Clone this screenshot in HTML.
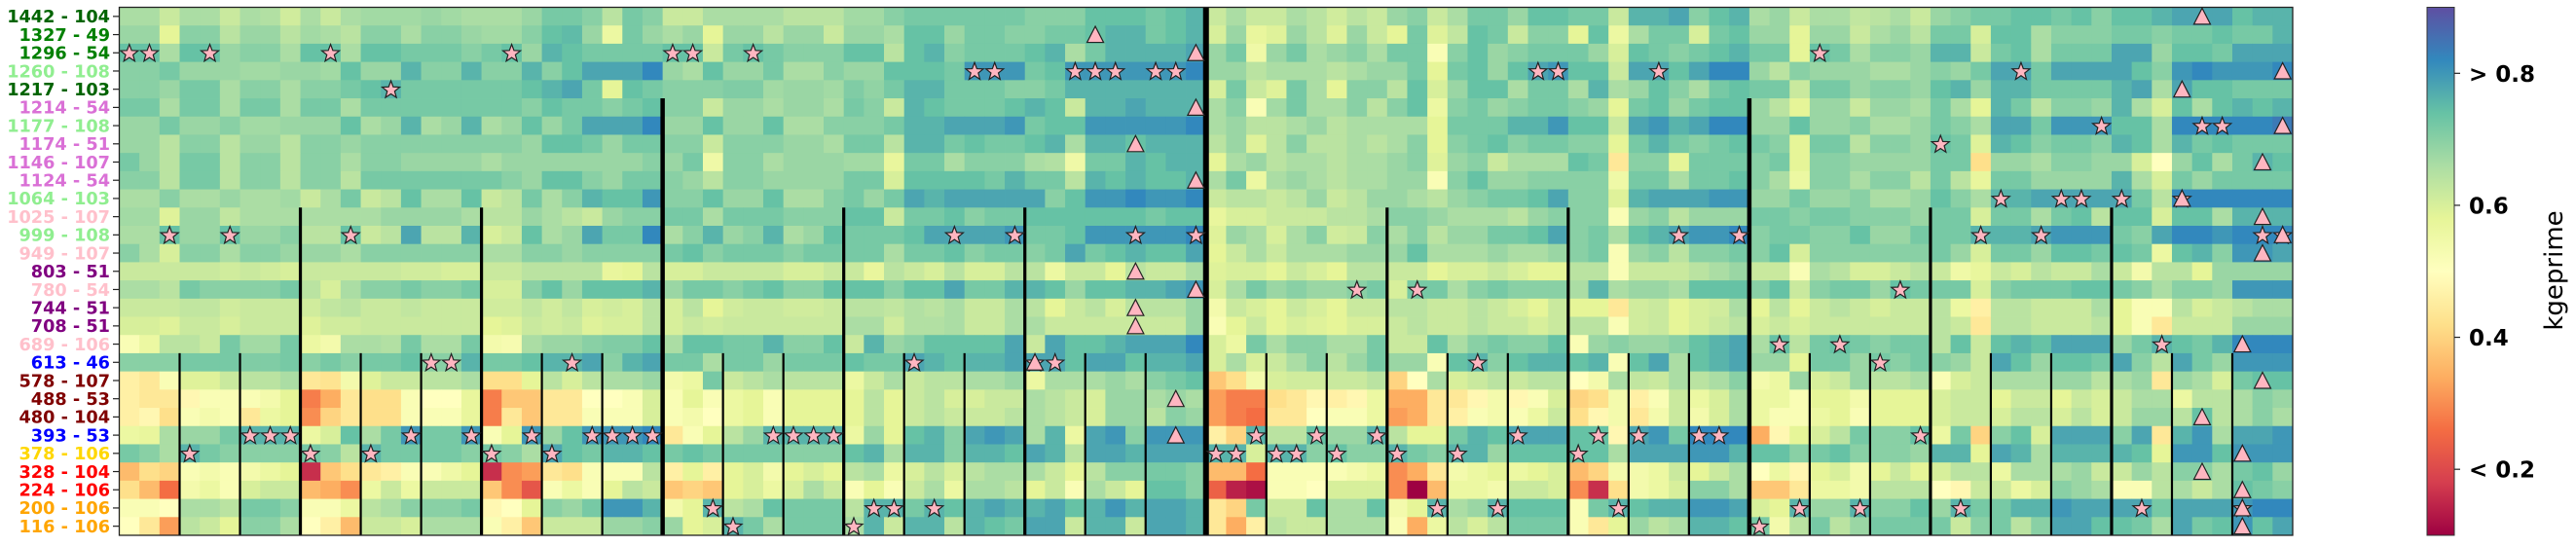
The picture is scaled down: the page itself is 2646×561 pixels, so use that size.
<!DOCTYPE html>
<html><head><meta charset="utf-8"><title>kgeprime heatmap</title>
<style>html,body{margin:0;padding:0;background:#fff;}svg{display:block;}</style></head>
<body>
<svg id="chart" xmlns="http://www.w3.org/2000/svg" width="2646" height="561" viewBox="0 0 2646 561">
<defs>
<linearGradient id="spectral" x1="0" y1="1" x2="0" y2="0">
<stop offset="0" stop-color="#9e0142"/><stop offset="0.1" stop-color="#d53e4f"/><stop offset="0.2" stop-color="#f46d43"/><stop offset="0.3" stop-color="#fdae61"/><stop offset="0.4" stop-color="#fee08b"/><stop offset="0.5" stop-color="#ffffbf"/><stop offset="0.6" stop-color="#e6f598"/><stop offset="0.7" stop-color="#abdda4"/><stop offset="0.8" stop-color="#66c2a5"/><stop offset="0.9" stop-color="#3288bd"/><stop offset="1" stop-color="#5e4fa2"/>
</linearGradient>
</defs>
<g id="cells"></g>
<g id="vlines"></g>
<g id="markers"></g>
<rect x="122.5" y="7.5" width="2232.5" height="542.5" fill="none" stroke="#222" stroke-width="1.3"/>
<g id="ylabels"></g>
<g>
<rect x="2493" y="7.5" width="28" height="542.5" fill="url(#spectral)" stroke="#333" stroke-width="1"/>
<g id="cbticks"></g>
<text x="2632" y="278" transform="rotate(-90 2632 278)" text-anchor="middle" font-family="DejaVu Sans, Liberation Sans, sans-serif" font-size="26">kgeprime</text>
</g>
</svg>
<script>
const rowLabels=["1442 - 104","1327 - 49","1296 - 54","1260 - 108","1217 - 103","1214 - 54","1177 - 108","1174 - 51","1146 - 107","1124 - 54","1064 - 103","1025 - 107","999 - 108","949 - 107","803 - 51","780 - 54","744 - 51","708 - 51","689 - 106","613 - 46","578 - 107","488 - 53","480 - 104","393 - 53","378 - 106","328 - 104","224 - 106","200 - 106","116 - 106"];
const labelColors=["#006400","#008000","#008000","#90ee90","#006400","#da70d6","#90ee90","#da70d6","#da70d6","#da70d6","#90ee90","#ffc0cb","#90ee90","#ffc0cb","#800080","#ffc0cb","#800080","#800080","#ffc0cb","#0000ff","#800000","#800000","#800000","#0000ff","#ffd700","#ff0000","#ff0000","#ffa500","#ffa500"];
const cbTickValues=[0.8,0.6,0.4,0.2];
const cbTickLabels=["> 0.8","0.6","0.4","< 0.2"];
const vmin=0.1, vmax=0.9;
// values x100, rows top->bottom, 108 columns
const values=[
[66,66,62,66,66,62,66,65,61,66,62,66,67,67,67,68,67,66,66,66,68,72,72,70,64,72,70, 62,62,66,66,66,66,64,64,64,67,67,70,72,72,72,72,72,72,70,70,70,74,74,74,72,74,76, 62,66,62,62,66,64,61,64,62,68,70,62,66,72,72,68,74,74,72,72,62,76,76,78,70,74,76, 66,68,62,66,66,63,64,66,62,68,70,72,72,74,74,72,74,70,74,74,76,78,78,78,74,76,76],
[68,68,58,70,70,64,68,68,64,67,66,64,70,70,66,70,70,68,67,67,70,74,75,68,56,72,68, 66,68,58,68,68,64,68,68,62,68,68,66,74,74,68,72,72,70,70,72,72,74,76,76,72,74,76, 60,68,57,59,68,64,59,68,62,58,72,59,63,74,72,62,70,70,58,74,56,66,72,72,60,72,74, 68,68,58,68,68,62,66,68,64,72,72,60,74,74,66,70,70,70,72,72,70,72,72,74,72,72,76],
[74,74,66,74,74,68,70,70,66,74,74,66,74,74,72,72,72,70,72,74,68,76,74,72,72,72,72, 74,74,62,72,74,72,70,70,70,74,74,64,74,76,70,72,72,72,74,76,66,72,76,76,76,76,78, 68,72,55,68,72,66,68,70,66,72,72,52,70,74,68,70,72,72,72,68,60,74,72,70,72,74,76, 72,72,58,74,72,66,70,70,68,76,76,62,72,74,66,72,72,72,78,78,68,74,74,72,78,78,78],
[70,70,72,68,68,68,67,67,68,68,67,74,68,68,76,70,70,76,70,70,76,70,74,78,78,78,82, 68,66,74,68,68,72,66,66,70,68,68,74,74,74,72,80,80,80,72,74,80,80,80,80,80,80,82, 68,68,64,66,66,66,64,66,68,68,72,58,72,74,68,74,78,80,74,74,62,78,78,74,78,82,82, 68,64,70,68,68,68,66,66,68,70,68,72,78,78,72,78,78,78,78,74,70,80,82,80,80,80,82],
[70,70,68,72,72,66,70,70,66,70,70,72,74,76,72,72,72,72,72,72,74,76,78,72,58,74,72, 70,70,70,71,71,67,68,68,67,71,69,72,76,76,72,72,72,70,70,72,76,76,76,76,76,76,76, 60,72,62,59,72,66,58,70,70,64,74,60,68,74,74,66,72,72,66,76,66,68,74,70,66,72,74, 72,72,62,72,72,68,70,70,68,74,76,68,76,76,72,72,72,72,76,78,66,78,74,74,72,72,72],
[72,72,66,72,72,66,72,72,66,72,72,66,72,72,72,72,72,72,72,72,70,74,72,72,70,72,74, 70,70,62,68,68,66,68,68,66,72,70,62,76,74,72,72,72,74,76,74,62,76,76,78,76,76,76, 66,70,52,67,72,66,66,70,64,70,74,56,70,72,68,70,72,72,70,68,58,72,74,68,72,74,74, 68,64,58,68,68,62,68,68,66,72,66,58,76,72,64,70,70,68,76,66,60,74,66,74,76,74,76],
[68,68,72,68,68,70,67,67,68,68,68,74,66,68,76,66,68,76,66,68,74,68,72,78,78,78,82, 68,68,74,68,68,74,66,66,70,70,70,72,76,76,78,78,78,80,72,74,74,80,80,80,80,80,82, 66,68,64,64,66,68,64,66,66,66,66,58,72,72,72,76,76,80,74,74,62,78,80,76,78,82,82, 68,68,74,68,68,70,66,66,68,72,70,66,78,78,72,80,80,80,74,74,66,82,82,82,82,82,84],
[68,68,64,70,70,64,68,68,64,70,70,68,70,70,70,70,70,70,70,70,68,74,74,72,68,72,72, 70,70,62,70,70,70,68,68,66,72,72,64,76,76,72,74,72,72,74,76,66,76,76,74,76,76,76, 64,68,59,64,70,64,64,66,64,66,70,58,70,72,74,70,72,72,70,70,58,72,76,72,70,72,74, 72,70,58,72,72,64,70,70,68,74,72,59,76,74,70,72,72,70,76,74,66,76,72,74,72,72,72],
[72,68,64,72,72,64,70,70,64,70,70,66,70,70,68,68,68,68,66,68,68,68,68,68,68,68,70, 68,72,55,70,70,66,68,68,68,67,67,57,72,72,66,70,70,70,66,65,55,72,72,76,74,76,76, 58,66,68,64,66,66,64,66,66,68,70,59,68,70,62,66,66,66,74,72,44,70,70,58,72,72,72, 70,72,58,70,70,68,68,68,68,72,72,42,68,68,66,70,70,68,68,60,50,68,74,66,72,76,74],
[70,70,64,72,72,64,70,70,64,70,70,64,72,72,72,72,72,72,72,70,68,74,74,70,68,72,72, 70,68,64,70,70,68,68,68,68,72,72,60,74,74,74,74,72,76,72,72,64,76,74,76,74,74,76, 66,72,56,66,68,66,64,66,66,68,68,52,70,74,68,68,70,70,70,70,55,72,72,66,72,72,74, 70,66,56,70,70,66,70,70,64,72,64,57,72,72,68,68,68,68,76,66,60,72,68,72,72,72,72],
[66,66,70,66,66,68,66,66,67,62,66,72,62,64,74,66,66,74,62,64,72,66,70,76,74,74,80, 70,70,74,68,68,74,66,66,70,72,68,72,78,76,78,78,78,78,78,70,74,80,80,82,80,80,82, 62,64,64,62,64,68,62,64,68,68,66,64,68,70,72,72,74,78,70,70,59,76,78,78,78,80,80, 68,68,72,68,68,70,66,66,68,74,70,66,76,76,78,78,78,78,78,72,64,82,82,82,82,82,82],
[67,67,59,68,68,63,66,66,66,66,66,66,66,68,68,68,68,66,64,64,68,66,64,62,68,70,70, 72,72,66,72,72,72,70,70,70,74,74,62,72,72,74,70,72,72,74,74,74,74,74,74,72,74,74, 57,60,60,62,62,62,64,64,66,70,70,68,66,66,66,64,68,70,70,70,52,68,70,64,68,68,68, 72,72,70,72,72,70,70,70,68,72,72,60,72,72,66,72,74,64,74,74,60,74,74,66,76,76,76],
[66,66,74,68,68,74,68,68,70,64,64,74,62,64,78,64,64,76,60,62,74,66,68,78,72,72,82, 66,70,76,68,70,76,66,68,74,72,72,72,74,78,78,78,78,80,72,72,74,80,80,80,80,80,82, 59,68,66,60,66,70,61,62,70,66,70,64,68,68,72,72,74,78,70,72,66,74,76,78,80,80,82, 70,72,72,70,70,74,68,68,72,72,72,76,76,76,78,80,80,80,72,70,78,82,82,80,82,82,82],
[70,66,60,70,70,66,70,70,68,68,68,66,70,70,70,70,70,70,66,66,70,70,68,70,70,70,70, 72,74,70,72,72,72,70,72,72,72,72,66,72,72,74,70,72,72,70,72,78,72,74,76,74,74,78, 58,62,66,62,66,66,66,68,68,68,74,66,66,66,68,66,66,68,70,72,52,68,70,64,70,70,72, 70,74,60,70,70,70,70,70,70,72,68,60,72,72,68,74,74,72,74,72,56,74,76,70,80,80,78],
[62,62,62,62,62,61,62,61,60,62,62,62,62,62,61,61,60,60,62,62,64,64,64,64,57,58,64, 60,60,62,62,62,62,60,60,62,62,57,64,62,60,64,60,60,64,64,56,62,62,58,64,62,62,66, 59,60,60,58,62,60,58,64,64,62,62,58,60,60,62,60,58,58,64,64,52,62,62,62,64,66,68, 62,62,52,66,64,60,60,62,64,62,55,57,62,60,64,62,62,66,62,54,64,64,58,68,68,68,68],
[66,66,64,72,70,70,70,70,72,64,60,66,70,70,72,70,70,72,60,60,70,74,68,74,74,74,76, 68,72,72,70,72,74,70,70,74,74,74,70,74,74,78,72,72,76,76,74,68,74,74,76,76,78,80, 60,66,72,68,70,68,68,70,72,60,72,72,66,70,72,70,70,70,66,76,66,68,68,66,74,74,74, 70,74,62,70,72,72,68,74,72,72,72,60,70,72,72,72,74,74,72,70,66,70,70,68,80,80,80],
[62,62,62,63,63,61,62,62,62,61,63,64,62,62,63,62,62,62,61,61,63,61,63,60,61,60,64, 60,64,58,61,62,62,61,61,62,64,64,63,65,64,66,62,62,66,64,58,62,64,60,64,64,64,68, 54,62,60,58,62,60,58,62,62,64,64,62,62,64,62,60,58,62,58,58,44,61,62,58,60,61,66, 58,64,58,62,64,62,60,62,62,64,56,46,64,64,62,62,62,66,58,52,52,64,60,62,64,66,66],
[60,60,59,62,62,60,62,62,62,59,61,61,62,62,62,62,62,62,58,59,62,61,62,59,60,60,64, 60,62,61,62,62,62,62,62,62,66,66,61,65,65,66,62,62,66,66,62,62,62,62,62,62,62,68, 52,58,62,58,60,59,58,60,60,62,64,62,62,64,62,62,60,62,64,64,52,61,62,58,60,62,64, 60,62,60,62,62,62,62,62,62,64,62,44,64,64,62,62,62,64,58,52,44,62,62,62,68,68,68],
[52,56,64,64,62,72,67,67,72,56,54,66,66,65,72,66,66,72,54,53,66,68,68,70,71,71,74, 66,74,74,72,72,76,70,70,74,62,76,68,70,74,74,74,74,78,62,78,74,74,76,78,78,78,82, 60,56,72,66,70,70,66,66,72,62,62,74,66,70,72,70,70,74,52,68,70,68,68,70,74,76,78, 66,74,64,72,74,72,70,72,72,64,74,62,74,76,74,78,78,78,68,72,76,74,72,76,82,82,82],
[70,70,70,72,72,72,71,71,72,70,72,70,72,72,74,70,70,76,72,72,74,76,76,78,70,76,78, 72,72,66,72,72,68,72,72,72,74,72,72,78,76,74,76,76,78,78,78,74,78,78,74,76,76,78, 60,66,60,62,66,70,64,68,72,68,68,52,74,76,70,74,76,76,74,76,52,74,78,66,74,76,78, 68,68,58,72,72,68,72,70,72,70,68,62,78,74,68,74,74,72,78,70,64,78,72,68,80,80,80],
[46,44,52,59,59,62,64,64,66,44,43,54,59,62,62,64,64,66,42,42,58,64,60,64,66,66,68, 54,56,72,62,64,66,64,64,64,56,62,66,62,64,64,66,66,68,56,66,66,66,68,66,70,72,74, 38,42,54,60,61,61,62,62,64,40,50,66,60,62,64,62,64,64,50,54,66,63,62,66,64,66,70, 54,56,68,60,62,68,64,64,66,52,60,62,66,66,66,68,68,64,66,68,44,68,66,60,72,74,74],
[46,44,44,48,52,52,52,54,58,28,34,44,42,42,52,50,50,57,28,38,38,44,44,50,50,52,60, 52,58,52,56,58,52,58,58,58,58,64,58,62,64,60,60,62,62,66,64,62,60,68,68,66,68,66, 32,28,28,42,44,48,46,48,56,34,34,44,44,48,54,48,52,60,40,42,54,46,52,62,56,60,66, 56,56,52,58,58,54,58,58,58,60,62,62,58,62,62,58,62,60,62,66,66,56,64,64,66,70,68],
[46,48,42,52,54,52,44,56,58,30,40,44,42,42,52,52,52,57,28,44,38,44,44,52,52,52,60, 52,54,50,56,58,52,58,58,58,58,64,58,62,64,62,62,62,64,66,64,62,60,68,68,64,70,68, 32,28,26,44,44,50,52,52,56,32,34,44,46,52,54,52,56,62,42,48,54,44,54,62,54,60,66, 56,52,52,56,58,52,58,58,58,60,62,62,60,64,64,60,64,60,62,68,68,64,74,64,66,70,66],
[56,57,66,68,68,72,76,76,76,56,60,74,66,72,80,72,72,80,52,58,80,68,74,80,80,80,82, 44,52,58,64,68,76,76,76,76,56,68,58,74,76,70,78,80,78,66,76,56,78,80,70,80,80,80, 46,40,76,64,64,74,68,68,76,64,58,58,72,76,74,78,78,78,74,74,48,78,80,72,82,82,82, 34,48,58,60,64,72,70,70,74,56,72,40,70,74,60,78,78,78,70,78,44,76,80,66,78,78,80],
[72,70,66,76,72,70,70,70,70,72,70,64,76,72,72,72,72,70,72,70,66,78,74,72,76,76,74, 72,74,72,72,72,72,70,70,70,74,76,66,76,76,70,76,76,74,78,76,64,78,78,76,78,78,78, 76,76,60,76,76,70,74,70,70,76,72,70,76,76,68,74,74,74,74,74,66,78,78,78,80,80,76, 74,74,70,72,74,70,70,70,68,76,76,58,78,76,66,76,76,76,76,74,58,80,80,74,80,80,80],
[36,42,40,52,54,52,54,56,58,16,38,42,44,46,52,52,55,58,16,30,32,44,42,52,52,52,64, 46,58,46,58,60,54,58,60,58,64,66,56,60,64,60,64,66,66,66,62,58,64,70,70,72,72,70, 36,36,26,52,52,52,52,54,56,30,34,44,54,56,58,56,58,60,36,40,54,54,56,62,58,62,66, 50,56,48,58,60,54,58,62,58,60,64,64,56,66,66,66,68,62,62,68,64,70,70,66,72,74,68],
[42,36,26,54,56,52,60,62,62,36,34,30,56,62,56,62,62,62,38,30,22,52,56,52,58,64,62, 38,40,38,58,60,56,60,66,62,52,58,52,62,66,56,66,66,64,58,62,52,66,62,58,74,74,70, 24,14,12,52,52,50,60,60,60,30,10,36,56,56,54,62,62,60,30,16,42,54,56,60,70,70,66, 38,38,44,56,56,54,64,64,64,50,48,62,62,56,60,70,68,66,52,52,64,66,62,66,74,72,70],
[52,52,50,66,66,64,72,72,70,52,52,56,64,66,70,70,70,72,48,50,58,70,68,72,80,80,76, 54,58,76,64,66,74,72,72,72,64,76,76,72,76,74,76,78,76,76,78,74,76,80,76,78,78,76, 44,40,72,62,62,74,66,66,74,54,58,76,66,68,76,74,74,74,52,72,76,74,76,76,80,80,78, 60,58,76,68,68,76,70,70,74,68,76,72,72,76,76,80,78,78,78,78,72,78,78,78,80,82,82],
[50,44,32,64,62,58,70,70,66,50,46,36,62,62,60,66,66,66,52,46,38,62,62,62,68,68,70, 68,58,60,76,72,66,72,72,72,66,76,62,76,76,64,76,74,72,78,78,62,76,76,62,78,78,76, 44,34,46,64,62,62,66,66,66,52,34,56,64,60,64,72,72,72,52,44,58,68,64,66,76,76,74, 72,54,64,72,64,68,72,72,72,72,62,70,72,64,70,78,78,74,74,72,66,78,72,74,80,74,78]
];
const starCells=[[2,0],[2,1],[2,4],[2,10],[2,19],[2,27],[2,28],[2,31],[2,84],
[3,42],[3,43],[3,47],[3,48],[3,49],[3,51],[3,52],[3,70],[3,71],[3,76],[3,94],
[4,13],[6,98],[6,103],[6,104],[7,90],[10,93],[10,96],[10,97],[10,99],[10,102],
[12,2],[12,5],[12,11],[12,41],[12,44],[12,50],[12,53],[12,77],[12,80],[12,92],[12,95],[12,106],[12,107],
[15,61],[15,64],[15,88],[18,82],[18,85],[18,101],
[19,15],[19,16],[19,22],[19,39],[19,45],[19,46],[19,67],[19,87],
[23,6],[23,7],[23,8],[23,14],[23,17],[23,20],[23,23],[23,24],[23,25],[23,26],[23,32],[23,33],[23,34],[23,35],[23,56],[23,59],[23,62],[23,69],[23,73],[23,75],[23,78],[23,79],[23,89],
[24,3],[24,9],[24,12],[24,18],[24,21],[24,54],[24,55],[24,57],[24,58],[24,60],[24,63],[24,66],[24,72],
[27,29],[27,37],[27,38],[27,40],[27,65],[27,68],[27,74],[27,83],[27,86],[27,91],[27,100],[27,105],
[28,30],[28,36],[28,81]];
const triCells=[[0,103],[1,48],[2,53],[3,107],[4,102],[5,53],[6,107],[7,50],[8,106],[9,53],[10,102],[11,106],[12,107],[13,106],[14,50],[15,53],[16,50],[17,50],[18,105],[19,45],[20,106],[21,52],[22,103],[23,52],[24,105],[25,103],[26,105],[27,105],[28,105]];
// separator lines: column boundary, starting row, stroke width
const sepCols=[54,27,81,9,18,36,45,63,72,90,99,3,6,12,15,21,24,30,33,39,42,48,51,57,60,66,69,75,78,84,87,93,96,102,105];

const NS="http://www.w3.org/2000/svg";
const X0=122.5,X1=2355,Y0=7.5,Y1=550;
const nCols=108,nRows=rowLabels.length;
const cw=(X1-X0)/nCols,rh=(Y1-Y0)/nRows;
const xOf=c=>X0+c*cw, yOf=r=>Y0+r*rh;
const stops=["#9e0142","#d53e4f","#f46d43","#fdae61","#fee08b","#ffffbf","#e6f598","#abdda4","#66c2a5","#3288bd","#5e4fa2"].map(h=>[parseInt(h.slice(1,3),16),parseInt(h.slice(3,5),16),parseInt(h.slice(5,7),16)]);
function color(v){let t=(v-vmin)/(vmax-vmin);t=Math.max(0,Math.min(1,t))*10;const i=Math.min(9,Math.floor(t)),f=t-i;const a=stops[i],b=stops[i+1];return "rgb("+a.map((x,k)=>Math.round(x+(b[k]-x)*f)).join(",")+")";}
function mk(tag,attrs,parent){const e=document.createElementNS(NS,tag);for(const k in attrs)e.setAttribute(k,attrs[k]);parent.appendChild(e);return e;}
const gC=document.getElementById("cells");
values.forEach((row,r)=>row.forEach((v,c)=>{const e=mk("rect",{x:xOf(c).toFixed(2),y:yOf(r).toFixed(2),width:(cw+0.4).toFixed(2),height:(rh+0.4).toFixed(2),fill:color(v/100)},gC);

}));
const gV=document.getElementById("vlines");
sepCols.forEach(c=>{let start,w;if(c%54===0){start=0;w=6;}else if(c%27===0){start=5;w=4.5;}else if(c%9===0){start=11;w=3.2;}else{start=19;w=2.2;}
const e=mk("line",{x1:xOf(c),x2:xOf(c),y1:yOf(start),y2:Y1,stroke:"#000","stroke-width":w},gV);

});
const gM=document.getElementById("markers");
function starPath(cx,cy,R,ri){let d="";for(let i=0;i<10;i++){const a=-Math.PI/2+i*Math.PI/5,rr=i%2?ri:R;d+=(i?"L":"M")+(cx+rr*Math.cos(a)).toFixed(2)+","+(cy+rr*Math.sin(a)).toFixed(2);}return d+"Z";}
starCells.forEach(([r,c])=>{const cx=xOf(c+0.5),cy=yOf(r+0.5);const e=mk("path",{d:starPath(cx,cy+0.8,9.5,4),fill:"#ffb6c1",stroke:"#222","stroke-width":1.2,"stroke-linejoin":"miter"},gM);

});
triCells.forEach(([r,c])=>{const cx=xOf(c+0.5),cy=yOf(r+0.5);const e=mk("path",{d:`M${cx},${cy-8.5}L${cx+8.5},${cy+8}L${cx-8.5},${cy+8}Z`,fill:"#ffb6c1",stroke:"#222","stroke-width":1.2},gM);

});
const gY=document.getElementById("ylabels");
rowLabels.forEach((lab,r)=>{const cy=yOf(r+0.5);
const t=mk("line",{x1:116,x2:X0,y1:cy,y2:cy,stroke:"#222","stroke-width":1.2},gY);


const e=mk("text",{x:113,y:cy+6.3,"text-anchor":"end","font-family":"DejaVu Sans, Liberation Sans, sans-serif","font-weight":"bold","font-size":"17.7",fill:labelColors[r]},gY);e.textContent=lab;

});
const gT=document.getElementById("cbticks");
cbTickValues.forEach((v,i)=>{const y=Y1-(v-vmin)/(vmax-vmin)*(Y1-Y0);
const l=mk("line",{x1:2521,x2:2527,y1:y,y2:y,stroke:"#222","stroke-width":1.2},gT);


const e=mk("text",{x:2536,y:y+8.5,"font-family":"DejaVu Sans, Liberation Sans, sans-serif","font-weight":"bold","font-size":"23",fill:"#000"},gT);e.textContent=cbTickLabels[i];

});
</script>
</body></html>
